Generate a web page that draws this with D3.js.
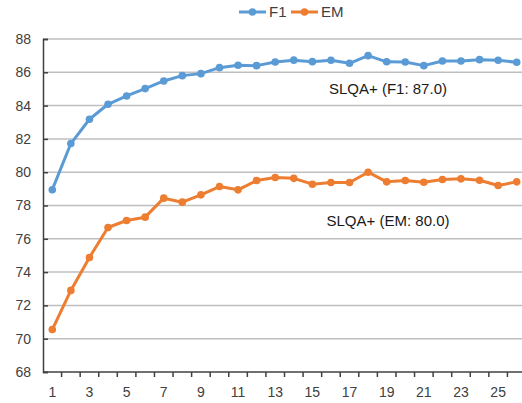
<!DOCTYPE html>
<html>
<head>
<meta charset="utf-8">
<script src="https://cdn.jsdelivr.net/npm/d3@7"></script>
<style>
  body { margin: 0; background: #fff; }
  svg { display: block; font-family: "Liberation Sans", Arial, sans-serif; }
</style>
</head>
<body>
<svg id="chart" width="522" height="403"></svg>
<script>
var epochs = d3.range(1, 27);
var f1 = [78.95, 81.72, 83.18, 84.08, 84.58, 85.02, 85.48, 85.8, 85.92, 86.28,
          86.42, 86.4, 86.62, 86.73, 86.64, 86.72, 86.54, 87.0, 86.63, 86.62,
          86.4, 86.68, 86.68, 86.76, 86.72, 86.6];
var em = [70.55, 72.9, 74.88, 76.68, 77.1, 77.3, 78.44, 78.2, 78.64, 79.14,
          78.94, 79.5, 79.68, 79.63, 79.28, 79.38, 79.38, 80.0, 79.42, 79.5,
          79.4, 79.56, 79.6, 79.52, 79.2, 79.42];
var yTicks = [68, 70, 72, 74, 76, 78, 80, 82, 84, 86, 88];
var series = [
    { name: 'F1', values: f1, color: '#5b9bd5', note: 'SLQA+ (F1: 87.0)', noteAt: 85.0 },
    { name: 'EM', values: em, color: '#ed7d31', note: 'SLQA+ (EM: 80.0)', noteAt: 77.1 }
];

var svg = d3.select('#chart');
var plotLeft = 43, plotRight = 526, plotTop = 39, plotBottom = 372;

var x = d3.scaleBand().domain(epochs).range([plotLeft, plotRight]);
var y = d3.scaleLinear().domain([68, 88]).range([plotBottom, plotTop]);
var cx = function (d, i) { return x(epochs[i]) + x.bandwidth() / 2; };

// gridlines
svg.append('g').selectAll('line').data(yTicks.slice(1)).enter().append('line')
    .attr('x1', plotLeft).attr('x2', plotRight)
    .attr('y1', function (d) { return y(d); }).attr('y2', function (d) { return y(d); })
    .attr('stroke', '#bfbfbf').attr('stroke-width', 1.5);

// y axis
var yAxis = svg.append('g').attr('transform', 'translate(' + plotLeft + ',0)')
    .call(d3.axisRight(y).tickValues(yTicks).tickSize(5).tickFormat(d3.format('d')));
yAxis.select('.domain').attr('stroke', '#404040').attr('stroke-width', 1.5);
yAxis.selectAll('.tick line').attr('stroke', '#404040').attr('stroke-width', 1.5);
yAxis.selectAll('.tick text').attr('x', -12).attr('text-anchor', 'end')
    .attr('font-size', 14).attr('fill', '#404040');

// x axis, ticks between categories
var xg = svg.append('g').attr('transform', 'translate(0,' + plotBottom + ')');
xg.append('line').attr('x1', plotLeft).attr('x2', plotRight).attr('stroke', '#404040').attr('stroke-width', 1.5);
xg.selectAll('line.tk').data(epochs).enter().append('line').attr('class', 'tk')
    .attr('x1', function (d) { return x(d) + x.bandwidth(); })
    .attr('x2', function (d) { return x(d) + x.bandwidth(); })
    .attr('y1', 0).attr('y2', 5).attr('stroke', '#404040').attr('stroke-width', 1.5);
xg.selectAll('text').data(epochs.filter(function (d) { return d % 2 === 1; })).enter().append('text')
    .attr('x', function (d) { return x(d) + x.bandwidth() / 2; })
    .attr('y', 25).attr('text-anchor', 'middle').attr('font-size', 14).attr('fill', '#404040')
    .text(function (d) { return d; });

// lines and markers
var line = d3.line().x(cx).y(function (d) { return y(d); });
series.forEach(function (s) {
    svg.append('path').datum(s.values).attr('d', line)
        .attr('fill', 'none').attr('stroke', s.color).attr('stroke-width', 3).attr('stroke-linejoin', 'round');
    svg.append('g').selectAll('circle').data(s.values).enter().append('circle')
        .attr('cx', cx).attr('cy', function (d) { return y(d); }).attr('r', 3.8).attr('fill', s.color);
    svg.append('text').attr('x', 388).attr('y', y(s.noteAt)).attr('dy', '0.35em')
        .attr('text-anchor', 'middle').attr('font-size', 15).attr('fill', '#1a1a1a').text(s.note);
});

// legend
var legend = svg.append('g').selectAll('g').data(series).enter().append('g')
    .attr('transform', function (d, i) { return 'translate(' + (239 + i * 52) + ',12)'; });
legend.append('line').attr('x1', 0).attr('x2', 27).attr('stroke', function (d) { return d.color; }).attr('stroke-width', 3);
legend.append('circle').attr('cx', 13.5).attr('r', 3.8).attr('fill', function (d) { return d.color; });
legend.append('text').attr('x', 30).attr('dy', '0.35em').attr('font-size', 15).attr('fill', '#404040')
    .text(function (d) { return d.name; });
</script>
</body>
</html>
